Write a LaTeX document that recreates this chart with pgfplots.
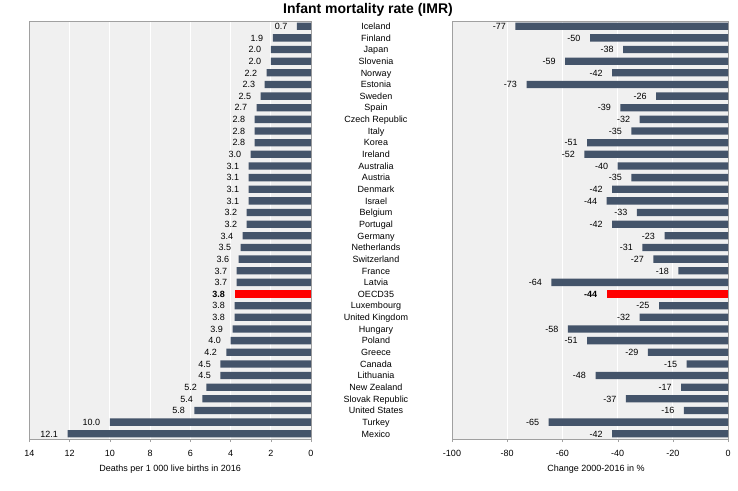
\documentclass[border=0pt]{standalone}
\usepackage{fontspec}
\setmainfont{Liberation Sans}
\usepackage{pgfplots}
\pgfplotsset{compat=1.18}

\definecolor{barblue}{RGB}{68,84,106}
\definecolor{bgpanel}{RGB}{240,240,240}
\definecolor{framegray}{RGB}{160,160,160}
\newcommand{\ninept}{\fontsize{9}{10.8}\selectfont}

\pgfplotsset{
  panel/.style={
    scale only axis, height=418pt,
    xbar, bar width=7.3pt, bar shift=0pt,
    ymin=-0.45, ymax=35.45, y dir=reverse,
    axis background/.style={fill=bgpanel},
    axis line style={framegray},
    xmajorgrids, major grid style={white, line width=1pt},
    xtick pos=lower, tick align=outside, major tick length=3pt,
    tick style={framegray}, ytick style={draw=none},
    tick label style={font=\ninept},
    xticklabel style={yshift=-5pt},
    label style={font=\ninept},
    xlabel style={at={(axis description cs:0.5,0)}, anchor=north, yshift=-22pt},
    /pgf/number format/assume math mode=true,
    point meta=x, nodes near coords,
    every node near coord/.append style={anchor=east, xshift=-6pt, font=\ninept, text=black,
      text height=6.5pt, text depth=0pt},
  },
}

\begin{document}
\begin{tikzpicture}
\path[use as bounding box] (0pt,0pt) rectangle (738pt,490pt);

% left panel: deaths per 1 000 live births, 2016
\begin{axis}[panel, at={(29.3pt,51pt)}, anchor=south west, width=281.7pt,
    xmin=0, xmax=14, x dir=reverse, xtick={0,2,...,14}, ytick=\empty,
    xlabel={Deaths per 1 000 live births in 2016},
    nodes near coords={\pgfmathprintnumber[fixed,fixed zerofill,precision=1]{\pgfplotspointmeta}}]
  \addplot[fill=barblue, draw=none] coordinates {
    (0.7,0) (1.9,1) (2.0,2) (2.0,3) (2.2,4) (2.3,5) (2.5,6) (2.7,7)
    (2.8,8) (2.8,9) (2.8,10) (3.0,11) (3.1,12) (3.1,13) (3.1,14) (3.1,15)
    (3.2,16) (3.2,17) (3.4,18) (3.5,19) (3.6,20) (3.7,21) (3.7,22)
    (3.8,24) (3.8,25) (3.9,26) (4.0,27) (4.2,28) (4.5,29) (4.5,30)
    (5.2,31) (5.4,32) (5.8,33) (10.0,34) (12.1,35)};
  \addplot[fill=red, draw=none, every node near coord/.append style={font=\ninept\bfseries}]
    coordinates {(3.8,23)};
\end{axis}

% right panel: change 2000-2016 in %
\begin{axis}[panel, at={(452pt,51pt)}, anchor=south west, width=276pt,
    xmin=-100, xmax=0, xtick={-100,-80,...,0},
    ytick={0,...,35},
    yticklabels={Iceland, Finland, Japan, Slovenia, Norway, Estonia, Sweden, Spain,
      Czech Republic, Italy, Korea, Ireland, Australia, Austria, Denmark, Israel,
      Belgium, Portugal, Germany, Netherlands, Switzerland, France, Latvia, OECD35,
      Luxembourg, United Kingdom, Hungary, Poland, Greece, Canada, Lithuania,
      New Zealand, Slovak Republic, United States, Turkey, Mexico},
    yticklabel style={anchor=center, xshift=-73pt, text height=6.5pt, text depth=0pt},
    xlabel={Change 2000-2016 in \%}, xlabel style={xshift=6pt},
    nodes near coords={\pgfmathprintnumber[fixed,precision=0]{\pgfplotspointmeta}}]
  \addplot[fill=barblue, draw=none] coordinates {
    (-77,0) (-50,1) (-38,2) (-59,3) (-42,4) (-73,5) (-26,6) (-39,7)
    (-32,8) (-35,9) (-51,10) (-52,11) (-40,12) (-35,13) (-42,14) (-44,15)
    (-33,16) (-42,17) (-23,18) (-31,19) (-27,20) (-18,21) (-64,22)
    (-25,24) (-32,25) (-58,26) (-51,27) (-29,28) (-15,29) (-48,30)
    (-17,31) (-37,32) (-16,33) (-65,34) (-42,35)};
  \addplot[fill=red, draw=none, every node near coord/.append style={font=\ninept\bfseries}]
    coordinates {(-44,23)};
\end{axis}

\node[font=\fontsize{14}{16}\selectfont\bfseries] at (368pt,480.5pt) {Infant mortality rate (IMR)};
\end{tikzpicture}
\end{document}
